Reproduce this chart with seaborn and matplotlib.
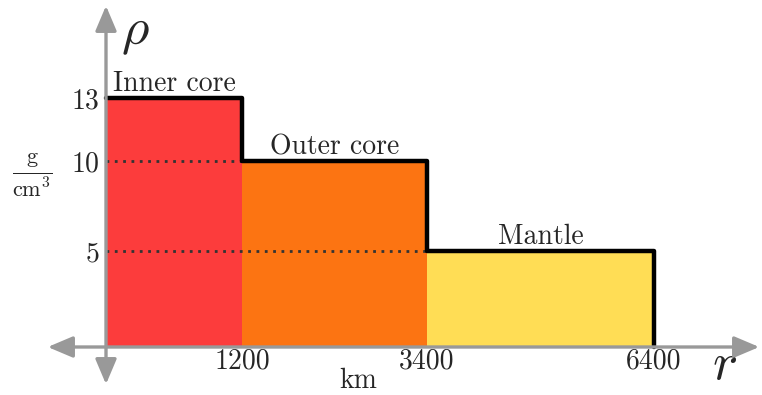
import matplotlib
matplotlib.use('Agg')
import matplotlib.pyplot as plt
import seaborn as sns
import numpy as np
import pandas as pd
from matplotlib.patches import FancyArrowPatch

# Layer data (schematic Earth density profile)
layers = ["Inner core", "Outer core", "Mantle"]
r_edges = [0, 1200, 3400, 6400]          # km
density = [13, 10, 5]                     # g/cm^3
layer_colors = ["#fc3c3c", "#fc7412", "#ffdd55"]
x_ticks = [1200, 3400, 6400]
y_ticks = [5, 10, 13]

# the drawing is schematic, not to scale: piecewise axis spacing
x_pix = [0, 136, 321, 548]
y_pix = [0, 96, 186, 249]


def fx(v):
    return np.interp(v, r_edges, x_pix)


def fx_inv(v):
    return np.interp(v, x_pix, r_edges)


def fy(v):
    return np.interp(v, [0] + y_ticks, y_pix)


def fy_inv(v):
    return np.interp(v, y_pix, [0] + y_ticks)


sns.set_style("white")
plt.rcParams['font.family'] = ['cmr10', 'DejaVu Serif']
plt.rcParams['mathtext.fontset'] = 'cm'
plt.rcParams['axes.formatter.use_mathtext'] = True

W, H = 762, 395
fig = plt.figure(figsize=(W / 100, H / 100), dpi=100)
ax = fig.add_axes([106 / W, 48 / H, 548 / W, 249 / H])
ax.set_xscale('function', functions=(fx, fx_inv))
ax.set_yscale('function', functions=(fy, fy_inv))
ax.set_xlim(0, 6400)
ax.set_ylim(0, 13)

# coloured layers
for i, name in enumerate(layers):
    ax.bar(r_edges[i], density[i], width=r_edges[i + 1] - r_edges[i],
           align='edge', color=layer_colors[i], linewidth=0, zorder=1)

# dotted guide lines
for i in range(1, len(layers)):
    ax.hlines(density[i], 0, r_edges[i], colors="#333333",
              linestyles=(0, (1, 2)), linewidth=2, zorder=2)

# black step outline
step = pd.DataFrame({
    "r": np.repeat(r_edges, 2)[1:],
    "rho": np.append(np.repeat(density, 2), 0),
})
sns.lineplot(data=step, x="r", y="rho", color="black", linewidth=3.2,
             sort=False, estimator=None, ax=ax, zorder=3, clip_on=False)

# layer names
for i, name in enumerate(layers):
    mid = fx_inv((fx(r_edges[i]) + fx(r_edges[i + 1])) / 2)
    ax.annotate(name, xy=(mid, density[i]), xytext=(0, 5),
                textcoords='offset points', ha='center', va='baseline',
                fontsize=20)

ax.set_xticks(x_ticks)
ax.set_xticklabels([str(v) for v in x_ticks])
ax.set_yticks(y_ticks)
ax.set_yticklabels([str(v) for v in y_ticks])
ax.tick_params(axis='both', length=0, labelsize=20)
ax.tick_params(axis='y', pad=5)
ax.tick_params(axis='x', pad=1)
ax.set_xlabel("")
ax.set_ylabel("")
for s in ax.spines.values():
    s.set_visible(False)
ax.patch.set_alpha(0)

# axes arrows
arrow_kw = dict(transform=fig.transFigure, color="#999999", linewidth=2.4,
                arrowstyle="<|-|>,head_length=0.85,head_width=0.36",
                mutation_scale=18, zorder=5)
fig.patches.append(FancyArrowPatch((45 / W, 48 / H), (762 / W, 48 / H), **arrow_kw))
fig.patches.append(FancyArrowPatch((106 / W, 8 / H), (106 / W, 392 / H), **arrow_kw))

# axis symbols and units
fig.text(135 / W, 1 - 34 / H, r"$\rho$", fontsize=38, ha='center', va='center')
fig.text(724 / W, 1 - 366 / H, r"$r$", fontsize=38, ha='center', va='center')
fig.text(358 / W, 1 - 381 / H, "km", fontsize=20, ha='center', va='center')
fig.text(32 / W, 1 - 175 / H, r"$\frac{\mathrm{g}}{\mathrm{cm}^3}$", fontsize=23,
         ha='center', va='center')

fig.savefig("out.png", dpi=100)
